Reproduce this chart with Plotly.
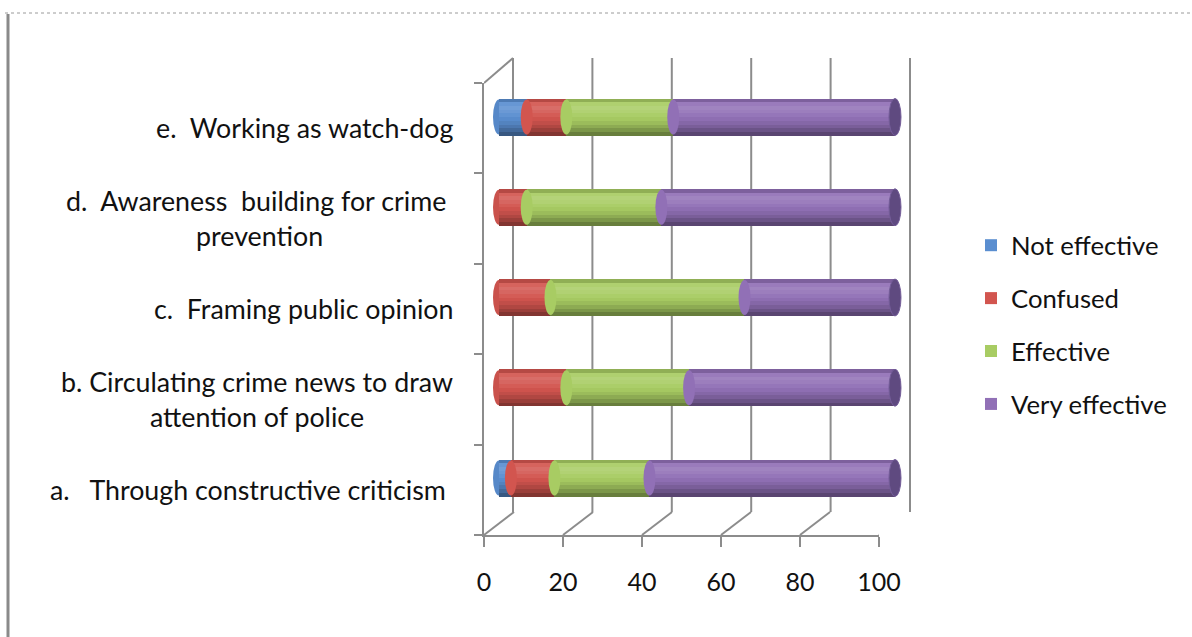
import numpy as np
import plotly.graph_objects as go

# ---- data -------------------------------------------------------------
categories = [
    "a.\u00a0\u00a0\u00a0Through constructive criticism\u00a0",
    "b. Circulating crime news to draw<br>attention of police",
    "c.\u00a0\u00a0Framing public opinion",
    "d.\u00a0\u00a0Awareness\u00a0\u00a0building for crime\u00a0<br>prevention",
    "e.\u00a0\u00a0Working as watch-dog",
]
series_names = ["Not effective", "Confused", "Effective", "Very effective"]
not_effective = [3, 0, 0, 0, 7]
confused = [11, 17, 13, 7, 10]
effective = [24, 31, 49, 34, 27]
very_effective = [62, 52, 38, 59, 56]
x_ticks = [0, 20, 40, 60, 80, 100]

# base colour for each series, plus the colour of the visible far end cap
palette = ["#5A8ED0", "#D2554F", "#A8CC63", "#9170B6"]
cap_colour = "#5F4A80"

W, H = 1192, 637
FONT = "Lato"
TEXT = "#111111"
FRAME = "#8C8C8C"


def px(x):
    return x / W


def py(y):
    return 1 - y / H


def padded_domain(left, right, pad, span=100.0):
    """Domain for a [−pad, span+pad] range whose 0..span lands on left..right px."""
    k = (right - left) / span
    return [px(left - pad * k), px(right + pad * k)]


def shade(hex_col, f):
    """Darken (f<1) or lighten towards white (f>1) a colour."""
    r, g, b = (int(hex_col[i:i + 2], 16) for i in (1, 3, 5))
    if f <= 1:
        r, g, b = (c * f for c in (r, g, b))
    else:
        t = f - 1
        r, g, b = (c + (255 - c) * t for c in (r, g, b))
    return "#%02x%02x%02x" % tuple(int(round(min(255, max(0, c)))) for c in (r, g, b))


BAR_W = 0.41
CAP = 6  # half-width of the cylinder end ellipses, pixels
# brightness across the cylinder, bottom band first
PROFILE = [0.62, 0.74, 0.84, 0.92, 0.98, 1.04, 1.10, 1.14, 1.08, 0.86]
NB = len(PROFILE)
PAD = 3  # axis padding so edge lines and end caps are not clipped

fig = go.Figure()

# empty traces so the back-wall and front-frame subplots exist
fig.add_trace(go.Scatter(x=[None], y=[None], xaxis="x", yaxis="y",
                         showlegend=False, hoverinfo="skip"))
fig.add_trace(go.Scatter(x=[None], y=[None], xaxis="x3", yaxis="y3",
                         showlegend=False, hoverinfo="skip"))

values = [np.array(v, dtype=float) for v in
          (not_effective, confused, effective, very_effective)]
starts = np.vstack([np.zeros(len(categories))] +
                   list(np.cumsum(values, axis=0)[:-1]))
totals = np.sum(values, axis=0)

shapes = []

# back-wall gridlines
for v in x_ticks:
    shapes.append(dict(type="line", xref="x", yref="y domain",
                       x0=v, x1=v, y0=0, y1=1, layer="below",
                       line=dict(color=FRAME, width=2)))

for k, (name, vals, col) in enumerate(zip(series_names, values, palette)):
    base = starts[k]
    common = dict(y=categories, x=vals, base=base, orientation="h",
                  xaxis="x2", yaxis="y2", hoverinfo="skip")
    fig.add_trace(go.Bar(**common, name=name, legendgroup=name,
                         width=BAR_W, offset=-BAR_W / 2,
                         marker=dict(color=col, line=dict(width=0))))
    # cylinder shading bands
    band = BAR_W / NB
    for j, f in enumerate(PROFILE):
        fig.add_trace(go.Bar(**common, showlegend=False, legendgroup=name,
                             width=band * 1.02, offset=-BAR_W / 2 + j * band,
                             marker=dict(color=shade(col, f), line=dict(width=0))))
    # seams between segments and rounded left ends
    for i, (b, v) in enumerate(zip(base, vals)):
        if v <= 0:
            continue
        shapes.append(dict(type="circle", xref="x2", yref="y2",
                           xsizemode="pixel", xanchor=b, x0=-CAP, x1=CAP,
                           y0=i - BAR_W / 2 + 0.01, y1=i + BAR_W / 2 - 0.01,
                           fillcolor=shade(col, 0.96) if b == 0 else col,
                           line=dict(width=0),
                           layer="above" if b > 0 else "below"))

# visible far end caps
for i, t in enumerate(totals):
    shapes.append(dict(type="circle", xref="x2", yref="y2",
                       xsizemode="pixel", xanchor=t, x0=-CAP, x1=CAP,
                       y0=i - BAR_W / 2, y1=i + BAR_W / 2,
                       fillcolor=cap_colour, line=dict(width=1, color="#735C98"),
                       layer="above"))

# floor diagonals from the front axis back to the wall
DEPTH = 30
for v in x_ticks:
    shapes.append(dict(type="line", xref="x3", yref="paper",
                       xsizemode="pixel", xanchor=v, x0=0, x1=DEPTH,
                       y0=py(535), y1=py(512),
                       line=dict(color=FRAME, width=2)))
# top-left edge of the side wall
shapes.append(dict(type="line", xref="x3", yref="paper",
                   xsizemode="pixel", xanchor=0, x0=0, x1=DEPTH - 1,
                   y0=py(83), y1=py(58), line=dict(color=FRAME, width=2)))

# page border
shapes.append(dict(type="line", xref="paper", yref="paper",
                   x0=px(5), x1=1, y0=py(13), y1=py(13),
                   line=dict(color="#9A9A9A", width=1, dash="dot")))
shapes.append(dict(type="line", xref="paper", yref="paper",
                   x0=px(8), x1=px(8), y0=py(14), y1=0,
                   line=dict(color="#8A8A8A", width=3)))

annotations = [
    dict(text=lab, x=px(455), y=i, xref="paper", yref="y3",
         xanchor="right", yanchor="middle", align="center", showarrow=False,
         font=dict(family=FONT, size=26.8, color=TEXT))
    for i, lab in enumerate(categories)
]

fig.update_layout(
    width=W, height=H, autosize=False,
    margin=dict(l=0, r=0, t=0, b=0, autoexpand=False),
    paper_bgcolor="white", plot_bgcolor="rgba(0,0,0,0)",
    barmode="overlay", bargap=0,
    font=dict(family=FONT, size=24, color=TEXT),
    shapes=shapes, annotations=annotations,
    # back wall
    xaxis=dict(domain=padded_domain(513, 910, PAD), range=[-PAD, 100 + PAD],
               anchor="y", showticklabels=False, ticks="", showgrid=False,
               zeroline=False, showline=False, fixedrange=True),
    yaxis=dict(domain=[py(512), py(58)], range=[0, 1], anchor="x",
               showgrid=False, zeroline=False, showticklabels=False,
               showline=False, fixedrange=True),
    # cylinders
    xaxis2=dict(domain=padded_domain(499, 895, PAD), range=[-PAD, 100 + PAD],
                anchor="y2", visible=False, fixedrange=True),
    yaxis2=dict(domain=[py(523.1), py(71.9)], range=[-0.5, 4.5], anchor="x2",
                type="category", categoryorder="array", categoryarray=categories,
                visible=False, fixedrange=True),
    # front axes
    xaxis3=dict(domain=[px(484), px(879)], range=[0, 100], anchor="y3",
                tickvals=x_ticks, ticks="outside", ticklen=10, tickwidth=2,
                tickcolor=FRAME, showline=True, linecolor=FRAME, linewidth=2,
                showgrid=False, zeroline=False, ticklabelstandoff=14,
                tickfont=dict(family=FONT, size=25, color=TEXT), fixedrange=True),
    yaxis3=dict(domain=[py(535), py(83)], range=[-0.5, 4.5], anchor="x3",
                tickvals=[-0.5, 0.5, 1.5, 2.5, 3.5, 4.5], showticklabels=False,
                ticks="outside", ticklen=8, tickwidth=2, tickcolor=FRAME,
                showline=True, linecolor=FRAME, linewidth=2,
                showgrid=False, zeroline=False, fixedrange=True),
    legend=dict(x=px(971), y=py(222), xanchor="left", yanchor="top",
                traceorder="grouped", tracegroupgap=16.5, itemwidth=30,
                bgcolor="rgba(0,0,0,0)",
                font=dict(family=FONT, size=25.7, color=TEXT)),
    showlegend=True,
)

fig.write_html("out.html")
